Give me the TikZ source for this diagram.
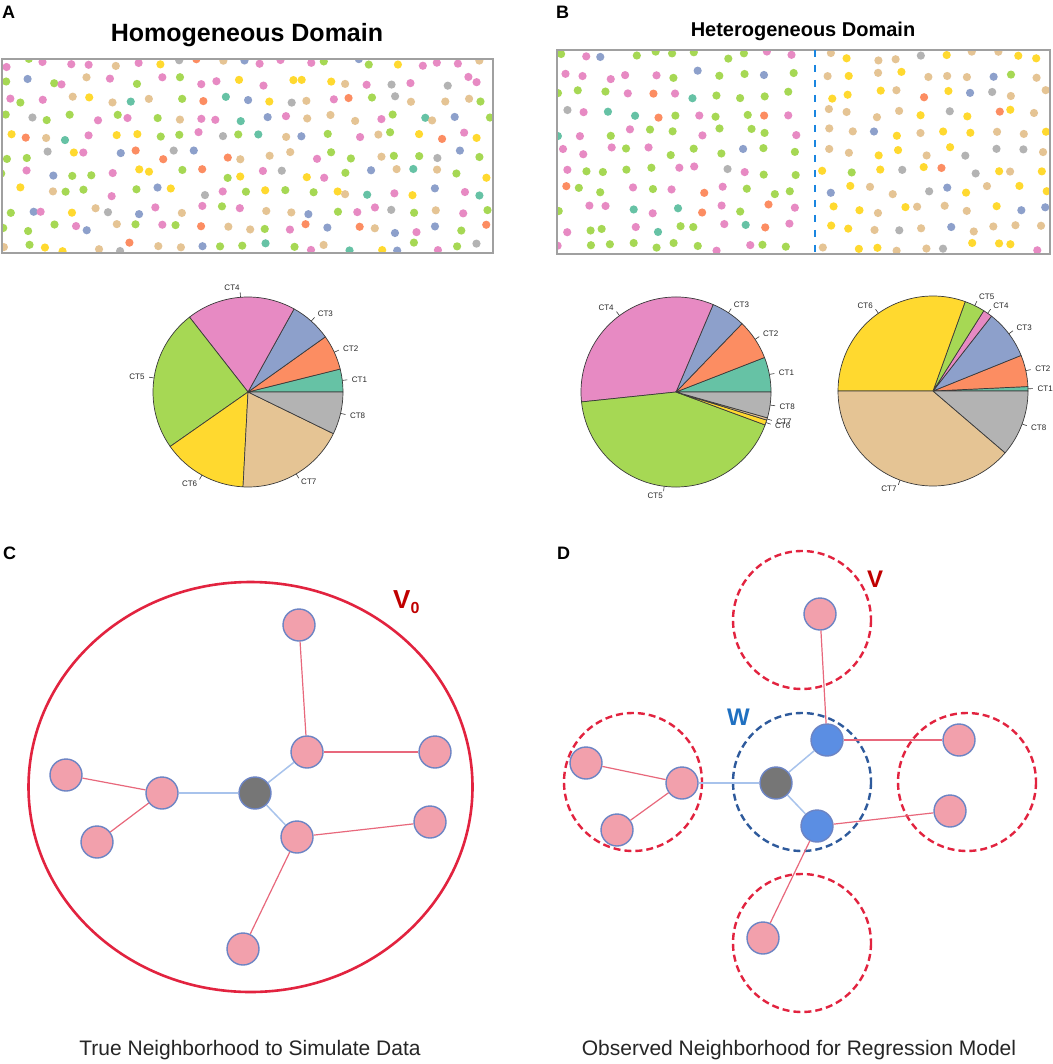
\documentclass[tikz,border=0pt]{standalone}
\usepackage{fontspec}
\setmainfont{Liberation Sans}
\definecolor{ct1}{HTML}{66C2A5}
\definecolor{ct2}{HTML}{FC8D62}
\definecolor{ct3}{HTML}{8DA0CB}
\definecolor{ct4}{HTML}{E78AC3}
\definecolor{ct5}{HTML}{A6D854}
\definecolor{ct6}{HTML}{FFD92F}
\definecolor{ct7}{HTML}{E5C494}
\definecolor{ct8}{HTML}{B3B3B3}
\definecolor{vred}{HTML}{E2233F}
\definecolor{vdark}{HTML}{C00000}
\definecolor{wblue}{HTML}{2E5A9C}
\definecolor{wlabel}{HTML}{1F70C1}
\definecolor{pinkfill}{HTML}{F2A0AC}
\definecolor{nborder}{HTML}{6C84C4}
\definecolor{bluefill}{HTML}{5B8EE3}
\definecolor{grayfill}{HTML}{767676}
\definecolor{bedge}{HTML}{A8C3EC}
\definecolor{redge}{HTML}{E8687C}
\definecolor{dashblue}{HTML}{1A86E0}
\definecolor{boxgray}{HTML}{A0A0A0}
\definecolor{captxt}{HTML}{262626}
\definecolor{pieline}{HTML}{3A3A3A}
\tikzset{
  pielab/.style={font=\fontsize{8}{8}\selectfont, text=black!85, inner sep=0pt},
  panel/.style={font=\bfseries\fontsize{18}{18}\selectfont, anchor=north west, inner sep=0pt},
  caption/.style={font=\fontsize{21}{21}\selectfont, text=captxt, anchor=base, inner sep=0pt},
  pnode/.style={circle, minimum size=32pt, inner sep=0pt, fill=pinkfill, draw=nborder, line width=1.4pt},
  gnode/.style={pnode, fill=grayfill},
  bnode/.style={pnode, fill=bluefill},
  redline/.style={draw=redge, line width=1.2pt},
  blueline/.style={draw=bedge, line width=1.5pt},
  vcirc/.style={draw=vred, line width=2.4pt, dash pattern=on 7pt off 4pt},
  wcirc/.style={draw=wblue, line width=2.4pt, dash pattern=on 7pt off 4pt},
  dotbox/.style={draw=boxgray, line width=1.3pt}
}
\newcommand\pieslice[7]{%
  \pgfmathsetmacro\midA{(#4+#5)/2}%
  \filldraw[fill=#6, draw=pieline, line width=0.7pt, line join=round]
    (#2,#3) -- ({#2+95*cos(#4)},{#3-95*sin(#4)}) arc[start angle={-#4}, end angle={-#5}, radius=95] -- cycle;
  \draw[pieline, line width=0.6pt] ({#2+95*cos(\midA)},{#3-95*sin(\midA)}) -- ({#2+100*cos(\midA)},{#3-100*sin(\midA)});
  \pgfmathsetmacro\cosA{cos(\midA)}%
  \ifdim\cosA pt<0pt
    \node[pielab, anchor=east] (#1#7) at ({#2+104.5*cos(\midA)},{#3-104.5*sin(\midA)}) {#7};
  \else
    \node[pielab, anchor=west] (#1#7) at ({#2+104.5*cos(\midA)},{#3-104.5*sin(\midA)}) {#7};
  \fi
}
\begin{document}
\begin{tikzpicture}[x=1pt,y=-1pt]
\useasboundingbox[fill=white] (0,0) rectangle (1052,1064);

% ---------------- Panel A ----------------
\node[panel] (lA) at (2,6) {A};
\node[font=\bfseries\fontsize{25}{25}\selectfont, anchor=base, inner sep=0pt] (tA) at (247,42) {Homogeneous Domain};
\pgfmathsetseed{11}
\begin{scope}
\clip (2,59) rectangle (493,253);
\foreach \r in {0,...,10}{
  \foreach \c in {0,...,22}{
    \pgfmathsetmacro\px{4+\c*21.8+(rnd-0.5)*16}
    \pgfmathsetmacro\py{63+\r*18.4+(rnd-0.5)*9}
    \pgfmathsetmacro\u{rnd}
    \pgfmathtruncatemacro\k{\u<0.039?1:(\u<0.099?2:(\u<0.169?3:(\u<0.356?4:(\u<0.597?5:(\u<0.741?6:(\u<0.927?7:8))))))}
    \fill[ct\k] (\px,\py) circle[radius=4.1];
  }
}
\end{scope}
\draw[dotbox] (2,59) rectangle (493,253);

% pie A
\pieslice{pa}{248}{392}{0}{14}{ct1}{CT1}
\pieslice{pa}{248}{392}{14}{35.5}{ct2}{CT2}
\pieslice{pa}{248}{392}{35.5}{61}{ct3}{CT3}
\pieslice{pa}{248}{392}{61}{128}{ct4}{CT4}
\pieslice{pa}{248}{392}{128}{215}{ct5}{CT5}
\pieslice{pa}{248}{392}{215}{267}{ct6}{CT6}
\pieslice{pa}{248}{392}{267}{334}{ct7}{CT7}
\pieslice{pa}{248}{392}{334}{360}{ct8}{CT8}

% ---------------- Panel B ----------------
\node[panel] (lB) at (556,6) {B};
\node[font=\bfseries\fontsize{20}{20}\selectfont, anchor=base, inner sep=0pt] (tB) at (803,37) {Heterogeneous Domain};
\begin{scope}
\clip (557,50) rectangle (1050,254);
\foreach \r in {0,...,10}{
  \foreach \c in {0,...,10}{
    \pgfmathsetmacro\px{561+\c*23+(rnd-0.5)*14}
    \pgfmathsetmacro\py{56+\r*19.1+(rnd-0.5)*9}
    \pgfmathsetmacro\u{rnd}
    \pgfmathtruncatemacro\k{\u<0.059?1:(\u<0.128?2:(\u<0.186?3:(\u<0.514?4:(\u<0.941?5:(\u<0.949?6:(\u<0.957?7:8))))))}
    \fill[ct\k] (\px,\py) circle[radius=4.1];
  }
  \foreach \c in {0,...,9}{
    \pgfmathsetmacro\px{829+\c*23.5+(rnd-0.5)*14}
    \pgfmathsetmacro\py{56+\r*19.1+(rnd-0.5)*9}
    \pgfmathsetmacro\u{rnd}
    \pgfmathtruncatemacro\k{\u<0.008?1:(\u<0.062?2:(\u<0.145?3:(\u<0.16?4:(\u<0.195?5:(\u<0.5?6:(\u<0.887?7:8))))))}
    \fill[ct\k] (\px,\py) circle[radius=4.1];
  }
}
\end{scope}
\draw[dotbox] (557,50) rectangle (1050,254);
\coordinate (splitTop) at (815,50);
\coordinate (splitBot) at (815,254);
\draw[dashblue, line width=2.6pt, dash pattern=on 7.5pt off 7.5pt] (splitTop) -- (splitBot);

% pie B left
\pieslice{pb}{676}{392}{0}{21.3}{ct1}{CT1}
\pieslice{pb}{676}{392}{21.3}{46}{ct2}{CT2}
\pieslice{pb}{676}{392}{46}{67}{ct3}{CT3}
\pieslice{pb}{676}{392}{67}{186}{ct4}{CT4}
\pieslice{pb}{676}{392}{186}{339.7}{ct5}{CT5}
\pieslice{pb}{676}{392}{339.7}{342.8}{ct6}{CT6}
\pieslice{pb}{676}{392}{342.8}{344.2}{ct7}{CT7}
\pieslice{pb}{676}{392}{344.2}{360}{ct8}{CT8}

% pie B right
\pieslice{pc}{933}{391}{0}{2.7}{ct1}{CT1}
\pieslice{pc}{933}{391}{2.7}{22}{ct2}{CT2}
\pieslice{pc}{933}{391}{22}{52}{ct3}{CT3}
\pieslice{pc}{933}{391}{52}{57.7}{ct4}{CT4}
\pieslice{pc}{933}{391}{57.7}{70.2}{ct5}{CT5}
\pieslice{pc}{933}{391}{70.2}{180}{ct6}{CT6}
\pieslice{pc}{933}{391}{180}{319.4}{ct7}{CT7}
\pieslice{pc}{933}{391}{319.4}{360}{ct8}{CT8}

% ---------------- Panel C ----------------
\node[panel] (lC) at (3,547) {C};
\draw[vred, line width=2.6pt] (250.5,787) ellipse[x radius=222, y radius=205];
\node[font=\bfseries\fontsize{26}{26}\selectfont, text=vdark, anchor=base west, inner sep=0pt] (vzero) at (393,608) {V\raisebox{-0.22em}{\fontsize{16}{16}\selectfont 0}};

\node[gnode] (c0) at (255,793) {};
\node[pnode] (c1) at (299,625) {};
\node[pnode] (c2) at (307,752) {};
\node[pnode] (c3) at (435,752) {};
\node[pnode] (c4) at (162,793) {};
\node[pnode] (c5) at (66,775) {};
\node[pnode] (c6) at (97,842) {};
\node[pnode] (c7) at (297,837) {};
\node[pnode] (c8) at (430,822) {};
\node[pnode] (c9) at (243,949) {};
\draw[blueline] (c0) -- (c4);
\draw[blueline] (c0) -- (c2);
\draw[blueline] (c0) -- (c7);
\draw[redline] (c2) -- (c1);
\draw[redline] (c2) -- (c3);
\draw[redline] (c4) -- (c5);
\draw[redline] (c4) -- (c6);
\draw[redline] (c7) -- (c8);
\draw[redline] (c7) -- (c9);

\node[caption] (capC) at (250,1055) {True Neighborhood to Simulate Data};

% ---------------- Panel D ----------------
\node[panel] (lD) at (557,547) {D};
\draw[vcirc] (802,620) circle[radius=69];
\draw[vcirc] (633,782) circle[radius=69];
\draw[vcirc] (967,782) circle[radius=69];
\draw[vcirc] (802,943) circle[radius=69];
\draw[wcirc] (802,782) circle[radius=69];
\node[font=\bfseries\fontsize{24}{24}\selectfont, text=vdark, anchor=base west, inner sep=0pt] (vlab) at (867,587) {V};
\node[font=\bfseries\fontsize{24}{24}\selectfont, text=wlabel, anchor=base west, inner sep=0pt] (wlab) at (727,725) {W};

\node[gnode] (d0) at (776,783) {};
\node[bnode] (d1) at (827,740) {};
\node[bnode] (d2) at (817,826) {};
\node[pnode] (d3) at (820,614) {};
\node[pnode] (d4) at (682,783) {};
\node[pnode] (d5) at (586,763) {};
\node[pnode] (d6) at (617,830) {};
\node[pnode] (d7) at (959,740) {};
\node[pnode] (d8) at (950,811) {};
\node[pnode] (d9) at (763,938) {};
\draw[blueline] (d0) -- (d4);
\draw[blueline] (d0) -- (d1);
\draw[blueline] (d0) -- (d2);
\draw[redline] (d1) -- (d3);
\draw[redline] (d1) -- (d7);
\draw[redline] (d2) -- (d8);
\draw[redline] (d2) -- (d9);
\draw[redline] (d4) -- (d5);
\draw[redline] (d4) -- (d6);

\node[caption] (capD) at (799,1055) {Observed Neighborhood for Regression Model};
\end{tikzpicture}
\end{document}
